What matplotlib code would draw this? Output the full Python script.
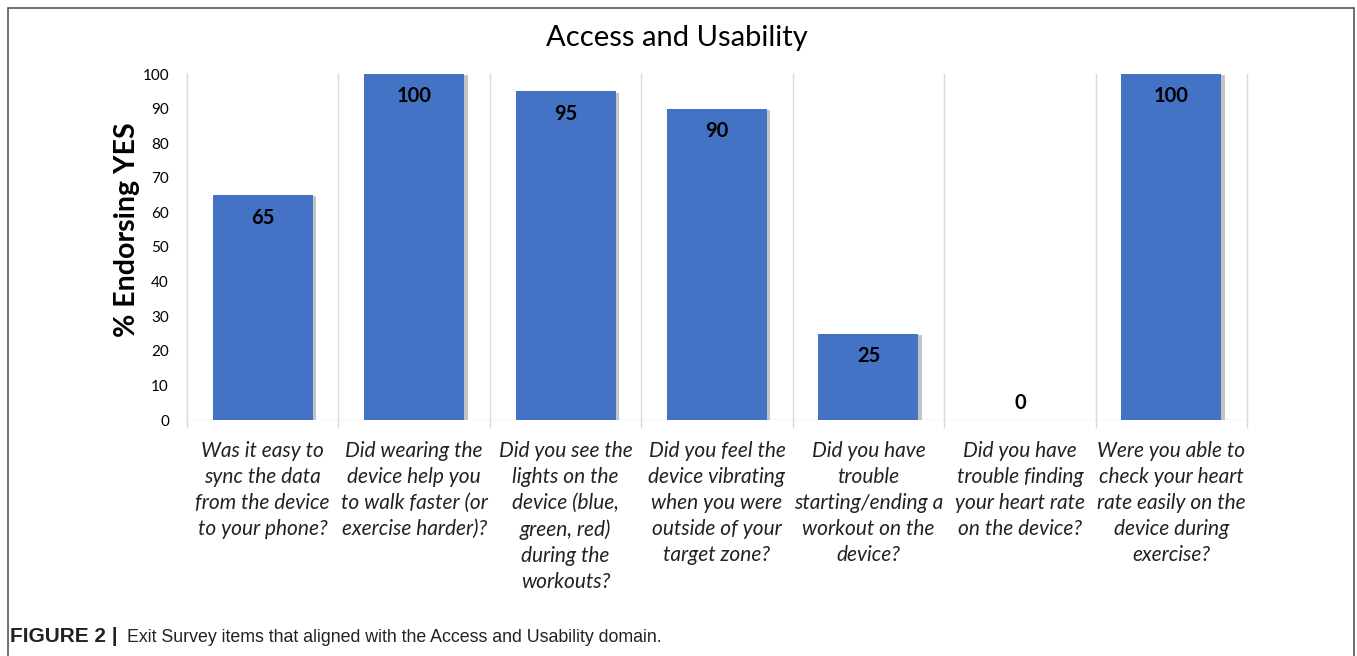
import matplotlib
matplotlib.use('Agg')
import matplotlib.pyplot as plt
import matplotlib.patheffects as pe
from matplotlib.patches import Rectangle

questions = [
    'Was it easy to\nsync the data\nfrom the device\nto your phone?',
    'Did wearing the\ndevice help you\nto walk faster (or\nexercise harder)?',
    'Did you see the\nlights on the\ndevice (blue,\ngreen, red)\nduring the\nworkouts?',
    'Did you feel the\ndevice vibrating\nwhen you were\noutside of your\ntarget zone?',
    'Did you have\ntrouble\nstarting/ending a\nworkout on the\ndevice?',
    'Did you have\ntrouble finding\nyour heart rate\non the device?',
    'Were you able to\ncheck your heart\nrate easily on the\ndevice during\nexercise?',
]
pct_yes = [65, 100, 95, 90, 25, 0, 100]
y_ticks = [0, 10, 20, 30, 40, 50, 60, 70, 80, 90, 100]

plt.rcParams['font.family'] = ['Lato', 'DejaVu Sans']

fig = plt.figure(figsize=(13.57, 6.56), dpi=100)

# outer frame like the journal figure box
fig.patches.append(Rectangle((8/1357, -0.01), (1354-8)/1357, (656-8)/656 + 0.01,
                             transform=fig.transFigure, fill=False,
                             edgecolor='#555555', linewidth=1.2))

ax = fig.add_axes([187/1357, 1 - 420/656, (1247-187)/1357, (420-74)/656])

x = list(range(len(pct_yes)))
bars = ax.bar(x, pct_yes, width=0.66, color='#4472C4', zorder=3)
for b in bars:
    b.set_path_effects([pe.SimplePatchShadow(offset=(2.5, -1), shadow_rgbFace='#8a8a8a', alpha=0.5),
                        pe.Normal()])

for i, v in enumerate(pct_yes):
    if v > 0:
        ax.text(i, v - 6.5, str(v), ha='center', va='center', fontsize=14.5,
                fontweight='bold', color='black', zorder=4)
    else:
        ax.text(i, v + 5, str(v), ha='center', va='center', fontsize=14.5,
                fontweight='bold', color='black', zorder=4)

ax.set_xlim(-0.5, len(pct_yes) - 0.5)
ax.set_ylim(0, 100)
ax.set_yticks(y_ticks)
ax.tick_params(axis='y', length=0, labelsize=11, pad=13)
ax.tick_params(axis='x', length=0)
ax.set_xticks([])

# category separators, dropping a little below the baseline
for k in range(len(pct_yes) + 1):
    ax.plot([k - 0.5, k - 0.5], [-2, 100], color='#d9d9d9', linewidth=1,
            clip_on=False, zorder=1)
ax.axhline(0, color='#d9d9d9', linewidth=1, zorder=2)

for s in ax.spines.values():
    s.set_visible(False)

for i, q in enumerate(questions):
    ax.text(i, -6.0, q, ha='center', va='top', fontsize=15, style='italic',
            color='#222222', linespacing=1.38)

fig.text(127/1357, 1 - 230/656, '% Endorsing YES', rotation=90, ha='center',
         va='center', fontsize=20.5, fontweight='bold')

fig.text(677/1357, 1 - 38/656, 'Access and Usability', ha='center', va='center',
         fontsize=21)

fig.text(10/1357, 1 - 637/656, 'FIGURE 2 |', ha='left', va='center', fontsize=15,
         fontweight='bold', family=['Liberation Sans'], color='#222222')
fig.text(127/1357, 1 - 637/656, 'Exit Survey items that aligned with the Access and Usability domain.',
         ha='left', va='center', fontsize=12.8, family=['Liberation Sans'],
         color='#222222')

fig.savefig('out.png', dpi=100)
